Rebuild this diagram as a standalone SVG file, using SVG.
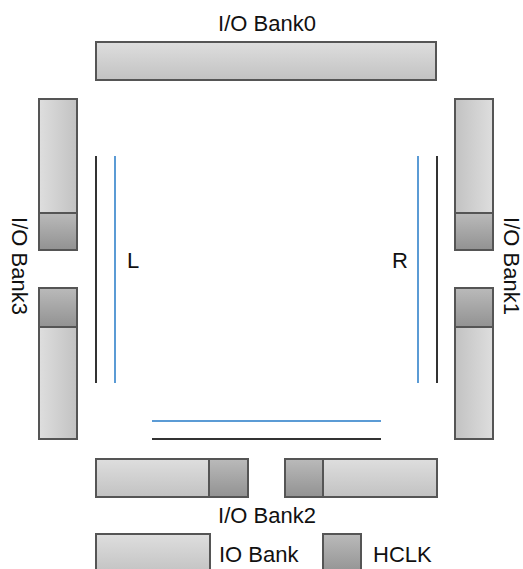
<svg xmlns="http://www.w3.org/2000/svg" width="523" height="569" viewBox="0 0 523 569">
<defs>
<linearGradient id="ioV" x1="0" y1="0" x2="0" y2="1"><stop offset="0" stop-color="#dedede"/><stop offset="1" stop-color="#c2c2c2"/></linearGradient>
<linearGradient id="ioL" x1="0" y1="0" x2="1" y2="0"><stop offset="0" stop-color="#dedede"/><stop offset="1" stop-color="#c2c2c2"/></linearGradient>
<linearGradient id="ioR" x1="1" y1="0" x2="0" y2="0"><stop offset="0" stop-color="#dedede"/><stop offset="1" stop-color="#c2c2c2"/></linearGradient>
<linearGradient id="hc" x1="0" y1="0" x2="0" y2="1"><stop offset="0" stop-color="#bababa"/><stop offset="1" stop-color="#929292"/></linearGradient>
</defs>
<style>
.st{stroke:#555;stroke-width:2}
.t{font-family:"Liberation Sans",Arial,sans-serif;font-size:22px;fill:#111}
.k{stroke:#333;stroke-width:2;fill:none}
.b{stroke:#5b9bd5;stroke-width:2;fill:none}
</style>
<rect width="523" height="569" fill="#fff"/>
<g id="bank0">
<rect class="st" x="96" y="42" width="340" height="38" fill="url(#ioV)"/>
<text class="t" x="267" y="31" text-anchor="middle">I/O Bank0</text>
</g>
<g id="bank3">
<rect class="st" x="39" y="99" width="38" height="151" fill="url(#ioL)"/>
<rect class="st" x="39" y="213" width="38" height="37" fill="url(#hc)"/>
<rect class="st" x="39" y="288" width="38" height="151" fill="url(#ioL)"/>
<rect class="st" x="39" y="288" width="38" height="39" fill="url(#hc)"/>
<text class="t" transform="translate(12,266) rotate(90)" text-anchor="middle">I/O Bank3</text>
</g>
<g id="bank1">
<rect class="st" x="455" y="99" width="38" height="151" fill="url(#ioR)"/>
<rect class="st" x="455" y="213" width="38" height="37" fill="url(#hc)"/>
<rect class="st" x="455" y="288" width="38" height="151" fill="url(#ioR)"/>
<rect class="st" x="455" y="288" width="38" height="39" fill="url(#hc)"/>
<text class="t" transform="translate(504,266) rotate(90)" text-anchor="middle">I/O Bank1</text>
</g>
<g id="bank2">
<rect class="st" x="96" y="459" width="152" height="38" fill="url(#ioV)"/>
<rect class="st" x="209" y="459" width="39" height="38" fill="url(#hc)"/>
<rect class="st" x="285" y="459" width="152" height="38" fill="url(#ioV)"/>
<rect class="st" x="285" y="459" width="38" height="38" fill="url(#hc)"/>
<text class="t" x="267" y="523" text-anchor="middle">I/O Bank2</text>
</g>
<g id="clocklines">
<line class="k" x1="96" y1="156" x2="96" y2="383"/>
<line class="b" x1="115" y1="156" x2="115" y2="383"/>
<line class="b" x1="418" y1="156" x2="418" y2="383"/>
<line class="k" x1="437" y1="156" x2="437" y2="383"/>
<line class="b" x1="152" y1="421" x2="381" y2="421"/>
<line class="k" x1="152" y1="439" x2="381" y2="439"/>
</g>
<g id="labels">
<text class="t" x="127" y="268">L</text>
<text class="t" x="392" y="268">R</text>
</g>
<g id="legend">
<rect class="st" x="96" y="534" width="114" height="40" fill="url(#ioV)"/>
<text class="t" x="219" y="562">IO Bank</text>
<rect class="st" x="323" y="534" width="38" height="40" fill="url(#hc)"/>
<text class="t" x="373" y="562">HCLK</text>
</g>
</svg>
